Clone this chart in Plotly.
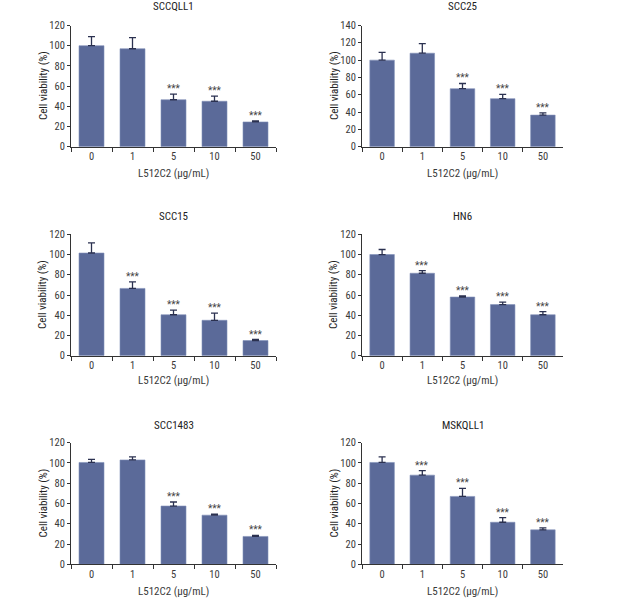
import plotly.graph_objects as go

W, H = 618, 605

doses = ["0", "1", "5", "10", "50"]
x_title = "L512C2 (μg/mL)"
y_title = "Cell viability (%)"

panel_titles = ["SCCQLL1", "SCC25", "SCC15", "HN6", "SCC1483", "MSKQLL1"]

sccqll1_mean = [100, 97, 46.5, 45, 24.5]
sccqll1_err = [9, 11, 5.5, 5, 1]
sccqll1_sig = [False, False, True, True, True]

scc25_mean = [100, 108, 67, 55.5, 36.5]
scc25_err = [9, 11, 6, 5, 2.5]
scc25_sig = [False, False, True, True, True]

scc15_mean = [101.5, 66.5, 40.5, 35, 15]
scc15_err = [10, 6.5, 4.5, 7, 1]
scc15_sig = [False, True, True, True, True]

hn6_mean = [100, 81.5, 58, 50.5, 40.5]
hn6_err = [5, 2.5, 1, 2.5, 3]
hn6_sig = [False, True, True, True, True]

scc1483_mean = [100.5, 103, 57.5, 48.5, 27.5]
scc1483_err = [3, 3, 4, 1, 1]
scc1483_sig = [False, False, True, True, True]

mskqll1_mean = [100.5, 88, 67, 41.5, 34]
mskqll1_err = [5.5, 4.5, 8, 4.5, 2]
mskqll1_sig = [False, True, True, True, True]

y_max = [120, 140, 120, 120, 120, 120]
y_step = 20
sig_label = "***"

means = [sccqll1_mean, scc25_mean, scc15_mean, hn6_mean, scc1483_mean, mskqll1_mean]
errs = [sccqll1_err, scc25_err, scc15_err, hn6_err, scc1483_err, mskqll1_err]
sigs = [sccqll1_sig, scc25_sig, scc15_sig, hn6_sig, scc1483_sig, mskqll1_sig]

# layout in pixels (left, right, top, bottom of plot area)
col_x = [(71, 276), (362, 563)]
row_y = [(25.5, 146.7), (234.3, 355.7), (442.7, 564.3)]
title_y = [7, 216.7, 425]
xlab_y = [173.3, 380, 591.7]

FONT = "Liberation Sans Narrow, Arial Narrow, Roboto Condensed, sans-serif"
TXT = "#3a3a3a"
BAR = "#5b6a99"
ERR = "#2b3150"

fig = go.Figure()
layout = dict(
    width=W, height=H, margin=dict(l=0, r=0, t=0, b=0, pad=0, autoexpand=False),
    paper_bgcolor="white", plot_bgcolor="white", showlegend=False,
    font=dict(family=FONT, size=10, color=TXT),
)
annotations = []

for i in range(6):
    r, c = divmod(i, 2)
    xa = "x" if i == 0 else f"x{i+1}"
    ya = "y" if i == 0 else f"y{i+1}"
    xkey = "xaxis" if i == 0 else f"xaxis{i+1}"
    ykey = "yaxis" if i == 0 else f"yaxis{i+1}"
    x0, x1 = col_x[c]
    yt, yb = row_y[r]
    fig.add_trace(go.Bar(
        x=doses, y=means[i], xaxis=xa, yaxis=ya,
        marker=dict(color=BAR, line=dict(color="#8290b8", width=0.6)),
        error_y=dict(type="data", symmetric=False, array=errs[i],
                     arrayminus=[0] * len(errs[i]), color=ERR,
                     thickness=1.3, width=3.5),
        width=0.61,
    ))
    layout[xkey] = dict(
        domain=[x0 / W, x1 / W], anchor=ya, type="category",
        range=[-0.5, 4.5], showline=True, linecolor="#333", linewidth=1,
        ticks="outside", ticklen=4, tickcolor="#333", tickson="boundaries",
        showgrid=False, zeroline=False, tickfont=dict(size=10.5, color=TXT),
        fixedrange=True, automargin=False,
    )
    layout[ykey] = dict(
        domain=[1 - yb / H, 1 - yt / H], anchor=xa,
        range=[0, y_max[i]], dtick=y_step, tick0=0,
        showline=True, linecolor="#333", linewidth=1,
        ticks="outside", ticklen=3, tickcolor="#333",
        showgrid=False, zeroline=False, tickfont=dict(size=10.5, color=TXT),
        fixedrange=True, automargin=False,
    )
    xc = (x0 + x1) / 2 / W
    annotations.append(dict(
        text=panel_titles[i], x=xc, y=1 - title_y[r] / H, xref="paper", yref="paper",
        showarrow=False, xanchor="center", yanchor="middle",
        font=dict(size=11, color="#222", family=FONT),
    ))
    annotations.append(dict(
        text=x_title, x=xc, y=1 - xlab_y[r] / H, xref="paper", yref="paper",
        showarrow=False, xanchor="center", yanchor="middle",
        font=dict(size=11, color=TXT, family=FONT),
    ))
    annotations.append(dict(
        text=y_title, x=(x0 - 28) / W, y=1 - (yt + yb) / 2 / H,
        xref="paper", yref="paper", textangle=-90,
        showarrow=False, xanchor="center", yanchor="middle",
        font=dict(size=11, color="#222", family=FONT),
    ))
    for j in range(len(doses)):
        if sigs[i][j]:
            annotations.append(dict(
                text=sig_label, x=j, y=means[i][j] + errs[i][j],
                xref=xa, yref=ya, showarrow=False,
                xanchor="center", yanchor="bottom", yshift=-2,
                font=dict(size=10, color="#444", family=FONT),
            ))

layout["annotations"] = annotations
fig.update_layout(**layout)
fig.write_html("out.html", config={"displayModeBar": False},
               post_script="document.body.style.margin='0';")
